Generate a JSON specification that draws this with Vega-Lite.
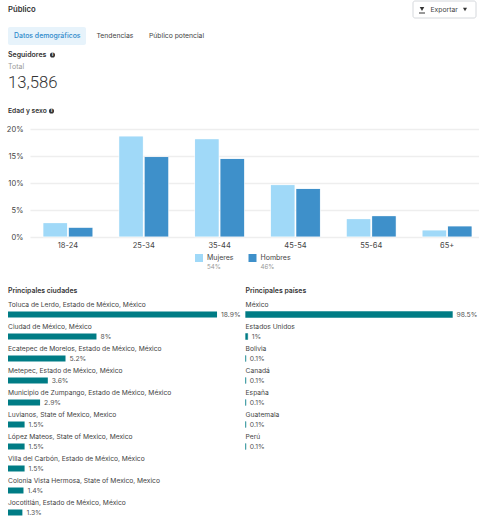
{"$schema":"https://vega.github.io/schema/vega-lite/v6.json","padding":0,"spacing":0,"background":"white","config":{"view":{"stroke":null},"font":"Inter","concat":{"spacing":0},"text":{"font":"Inter"},"title":{"font":"Inter"}},
"datasets":{"edades":[
{"edad":"18-24","genero":"Mujeres","pct":2.66},{"edad":"18-24","genero":"Hombres","pct":1.8},
{"edad":"25-34","genero":"Mujeres","pct":18.7},{"edad":"25-34","genero":"Hombres","pct":14.9},
{"edad":"35-44","genero":"Mujeres","pct":18.2},{"edad":"35-44","genero":"Hombres","pct":14.55},
{"edad":"45-54","genero":"Mujeres","pct":9.7},{"edad":"45-54","genero":"Hombres","pct":9.0},
{"edad":"55-64","genero":"Mujeres","pct":3.4},{"edad":"55-64","genero":"Hombres","pct":3.95},
{"edad":"65+","genero":"Mujeres","pct":1.3},{"edad":"65+","genero":"Hombres","pct":2.05}],
"ciudades":[
{"lugar":"Toluca de Lerdo, Estado de México, México","pct":18.9,"etiqueta":"18.9%"},
{"lugar":"Ciudad de México, México","pct":8,"etiqueta":"8%"},
{"lugar":"Ecatepec de Morelos, Estado de México, México","pct":5.2,"etiqueta":"5.2%"},
{"lugar":"Metepec, Estado de México, México","pct":3.6,"etiqueta":"3.6%"},
{"lugar":"Municipio de Zumpango, Estado de México, México","pct":2.9,"etiqueta":"2.9%"},
{"lugar":"Luvianos, State of Mexico, Mexico","pct":1.5,"etiqueta":"1.5%"},
{"lugar":"López Mateos, State of Mexico, Mexico","pct":1.5,"etiqueta":"1.5%"},
{"lugar":"Villa del Carbón, Estado de México, México","pct":1.5,"etiqueta":"1.5%"},
{"lugar":"Colonia Vista Hermosa, State of Mexico, Mexico","pct":1.4,"etiqueta":"1.4%"},
{"lugar":"Jocotitlán, Estado de México, México","pct":1.3,"etiqueta":"1.3%"}],
"paises":[
{"lugar":"México","pct":98.5,"etiqueta":"98.5%"},
{"lugar":"Estados Unidos","pct":1,"etiqueta":"1%"},
{"lugar":"Bolivia","pct":0.1,"etiqueta":"0.1%"},
{"lugar":"Canadá","pct":0.1,"etiqueta":"0.1%"},
{"lugar":"España","pct":0.1,"etiqueta":"0.1%"},
{"lugar":"Guatemala","pct":0.1,"etiqueta":"0.1%"},
{"lugar":"Perú","pct":0.1,"etiqueta":"0.1%"}],
"leyenda":[{"genero":"Mujeres","parte":"54%"},{"genero":"Hombres","parte":"46%"}]},
"vconcat":[
{"width":452,"height":125,"layer":[
{"data":{"values":[{"a":1}]},"mark":{"type":"rect","fill":"#E7F3FB","cornerRadius":2},"encoding":{"x":{"value":-19},"x2":{"value":59},"y":{"value":27},"y2":{"value":45}}},
{"data":{"values":[{"a":1}]},"mark":{"type":"rect","fill":"white","stroke":"#D5D8DC","strokeWidth":1,"cornerRadius":2},"encoding":{"x":{"value":386},"x2":{"value":449},"y":{"value":1},"y2":{"value":18}}},
{"data":{"values":[{"t":"Público"}]},"mark":{"type":"text","align":"left","fontSize":7.7,"fontWeight":600,"color":"#333"},"encoding":{"text":{"field":"t"},"x":{"value":-19},"y":{"value":10}}},
{"data":{"values":[{"t":"Exportar"}]},"mark":{"type":"text","align":"left","fontSize":6.8,"color":"#444"},"encoding":{"text":{"field":"t"},"x":{"value":403.5},"y":{"value":10}}},
{"data":{"values":[{"t":"Datos demográficos"}]},"mark":{"type":"text","align":"left","fontSize":6.9,"fontWeight":500,"color":"#2F8ACB"},"encoding":{"text":{"field":"t"},"x":{"value":-13},"y":{"value":36}}},
{"data":{"values":[{"t":"Tendencias"}]},"mark":{"type":"text","align":"left","fontSize":6.8,"color":"#444"},"encoding":{"text":{"field":"t"},"x":{"value":69.5},"y":{"value":36}}},
{"data":{"values":[{"t":"Público potencial"}]},"mark":{"type":"text","align":"left","fontSize":6.8,"color":"#444"},"encoding":{"text":{"field":"t"},"x":{"value":122},"y":{"value":36}}},
{"data":{"values":[{"t":"Seguidores"}]},"mark":{"type":"text","align":"left","fontSize":7,"fontWeight":600,"color":"#333"},"encoding":{"text":{"field":"t"},"x":{"value":-19},"y":{"value":55}}},
{"data":{"values":[{"t":"Total"}]},"mark":{"type":"text","align":"left","fontSize":7,"color":"#999"},"encoding":{"text":{"field":"t"},"x":{"value":-19},"y":{"value":67}}},
{"data":{"values":[{"t":"13,586"}]},"mark":{"type":"text","align":"left","fontSize":16.7,"font":"Roboto","fontWeight":300,"color":"#333"},"encoding":{"text":{"field":"t"},"x":{"value":-19},"y":{"value":83}}},
{"data":{"values":[{"t":"Edad y sexo"}]},"mark":{"type":"text","align":"left","fontSize":6.7,"fontWeight":600,"color":"#333"},"encoding":{"text":{"field":"t"},"x":{"value":-19},"y":{"value":111}}},
{"data":{"values":[{"a":1}]},"mark":{"type":"point","shape":"circle","filled":true,"size":26,"color":"#333","opacity":1},"encoding":{"x":{"value":25.5},"y":{"value":55}}},
{"data":{"values":[{"t":"i"}]},"mark":{"type":"text","fontSize":4.5,"fontWeight":700,"color":"white"},"encoding":{"text":{"field":"t"},"x":{"value":25.5},"y":{"value":55}}},
{"data":{"values":[{"a":1}]},"mark":{"type":"point","shape":"circle","filled":true,"size":26,"color":"#333","opacity":1},"encoding":{"x":{"value":24.5},"y":{"value":111}}},
{"data":{"values":[{"t":"i"}]},"mark":{"type":"text","fontSize":4.5,"fontWeight":700,"color":"white"},"encoding":{"text":{"field":"t"},"x":{"value":24.5},"y":{"value":111}}},
{"data":{"values":[{"a":1}]},"mark":{"type":"point","shape":"triangle-down","filled":true,"size":16,"color":"#333","opacity":1},"encoding":{"x":{"value":438},"y":{"value":9.5}}},
{"data":{"values":[{"a":1}]},"mark":{"type":"point","shape":"triangle-down","filled":true,"size":20,"color":"#333","opacity":1},"encoding":{"x":{"value":395},"y":{"value":9}}},
{"data":{"values":[{"a":1}]},"mark":{"type":"rect","fill":"#333"},"encoding":{"x":{"value":392},"x2":{"value":398},"y":{"value":12.5},"y2":{"value":13.5}}}
]},
{"width":446,"height":108,"data":{"name":"edades"},"mark":{"type":"bar","cornerRadiusEnd":1,"stroke":"white","strokeWidth":0.5},
"encoding":{
"x":{"field":"edad","type":"nominal","sort":null,"title":null,"scale":{"range":[3,458],"paddingInner":0.34,"paddingOuter":0.17},"axis":{"labelAngle":0,"domain":false,"ticks":false,"labelFontSize":7.5,"labelColor":"#444","labelPadding":4,"grid":false}},
"xOffset":{"field":"genero","type":"nominal","sort":["Mujeres","Hombres"],"scale":{"paddingInner":0.03}},
"y":{"field":"pct","type":"quantitative","title":null,"scale":{"domain":[0,20]},"axis":{"values":[0,5,10,15,20],"labelExpr":"datum.value+'%'","domain":false,"ticks":false,"labelFontSize":7.5,"labelColor":"#444","labelPadding":4,"gridColor":"#EEEEEE","gridWidth":1.5,"minExtent":27,"maxExtent":27}},
"color":{"field":"genero","type":"nominal","legend":null,"scale":{"domain":["Mujeres","Hombres"],"range":["#A0D9F8","#3E90CA"]}}}},
{"width":452,"height":38,"data":{"name":"leyenda"},
"encoding":{"x":{"field":"genero","type":"nominal","sort":["Mujeres","Hombres"],"axis":null,"scale":{"type":"point","range":[172,225.5],"padding":0}}},
"layer":[
{"mark":{"type":"square","size":64,"opacity":1},"encoding":{"y":{"value":9},"color":{"field":"genero","type":"nominal","legend":null,"scale":{"domain":["Mujeres","Hombres"],"range":["#A0D9F8","#3E90CA"]}}}},
{"mark":{"type":"text","align":"left","dx":8,"fontSize":7,"color":"#444"},"encoding":{"y":{"value":9},"text":{"field":"genero"}}},
{"mark":{"type":"text","align":"left","dx":8,"fontSize":6.2,"color":"#999"},"encoding":{"y":{"value":18},"text":{"field":"parte"}}}
]},
{"hconcat":[
{"width":213,"height":224,"title":{"text":"Principales ciudades","anchor":"start","dx":0,"fontSize":6.9,"fontWeight":600,"color":"#333","offset":4},"data":{"name":"ciudades"},
"encoding":{"y":{"field":"lugar","type":"nominal","sort":null,"axis":null,"scale":{"type":"point","range":[15.5,213.5],"padding":0}}},
"layer":[
{"mark":{"type":"bar","size":6,"color":"#007C85"},"encoding":{"x":{"field":"pct","type":"quantitative","axis":null,"scale":{"domain":[0,20],"range":[-19,202.2]}}}},
{"mark":{"type":"text","align":"left","dx":4,"fontSize":6.8,"color":"#555"},"encoding":{"x":{"field":"pct","type":"quantitative"},"text":{"field":"etiqueta"}}},
{"mark":{"type":"text","align":"left","dy":-9.5,"fontSize":6.7,"color":"#444"},"encoding":{"x":{"datum":0},"text":{"field":"lugar"}}}
]},
{"width":239,"height":224,"title":{"text":"Principales países","anchor":"start","dx":4.6,"fontSize":6.9,"fontWeight":600,"color":"#333","offset":4},"data":{"name":"paises"},
"encoding":{"y":{"field":"lugar","type":"nominal","sort":null,"axis":null,"scale":{"type":"point","range":[15.5,147.5],"padding":0}}},
"layer":[
{"mark":{"type":"bar","size":6,"color":"#007C85","stroke":"#007C85","strokeWidth":0.8,"strokeOpacity":0.6},"encoding":{"x":{"field":"pct","type":"quantitative","axis":null,"scale":{"domain":[0,100],"range":[4.6,214.6]}}}},
{"mark":{"type":"text","align":"left","dx":4,"fontSize":6.8,"color":"#555"},"encoding":{"x":{"field":"pct","type":"quantitative"},"text":{"field":"etiqueta"}}},
{"mark":{"type":"text","align":"left","dy":-9.5,"fontSize":6.7,"color":"#444"},"encoding":{"x":{"datum":0},"text":{"field":"lugar"}}}
]}
]}
]}
